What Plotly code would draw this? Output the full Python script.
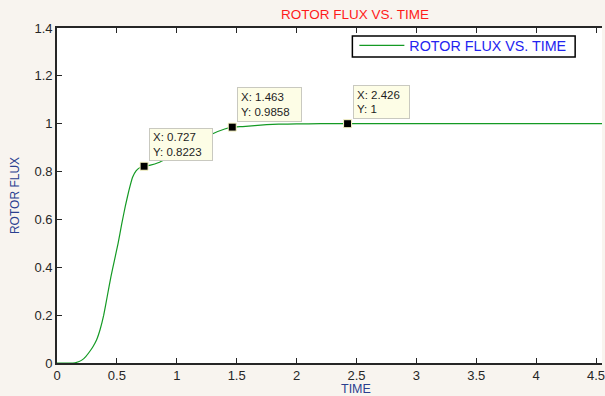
import plotly.graph_objects as go

# Rotor flux response over time
time_s = [0, 0.10, 0.15, 0.18, 0.21, 0.24, 0.27, 0.30, 0.33, 0.36, 0.39, 0.42,
          0.45, 0.48, 0.51, 0.54, 0.57, 0.60, 0.63, 0.66, 0.69, 0.727, 0.78,
          0.85, 0.92, 1.00, 1.10, 1.20, 1.30, 1.40, 1.463, 1.55, 1.65, 1.75,
          1.85, 2.00, 2.20, 2.426, 3.00, 3.50, 4.00, 4.60]
rotor_flux = [0, 0, 0.001, 0.005, 0.013, 0.027, 0.046, 0.068, 0.096, 0.14,
              0.20, 0.28, 0.36, 0.43, 0.50, 0.58, 0.655, 0.72, 0.775, 0.803,
              0.816, 0.8223, 0.827, 0.838, 0.855, 0.875, 0.90, 0.93, 0.958,
              0.978, 0.9858, 0.988, 0.992, 0.996, 0.998, 0.999, 1.0, 1.0, 1.0,
              1.0, 1.0, 1.0]

# Data-tip readings
tip_time = [0.727, 1.463, 2.426]
tip_flux = [0.8223, 0.9858, 1]

x_ticks = [0, 0.5, 1, 1.5, 2, 2.5, 3, 3.5, 4, 4.5]
y_ticks = [0, 0.2, 0.4, 0.6, 0.8, 1, 1.2, 1.4]

FONT = "Liberation Sans, Arial, sans-serif"
AXIS_COLOR = "#262626"
NAVY = "#2a3f8f"

fig = go.Figure()
fig.add_trace(go.Scatter(
    x=time_s, y=rotor_flux, mode="lines", name="ROTOR FLUX VS. TIME",
    line=dict(color="#149a24", width=1.2, shape="spline", smoothing=0.3),
))
fig.add_trace(go.Scatter(
    x=tip_time, y=tip_flux, mode="markers", showlegend=False,
    marker=dict(symbol="square", size=8, color="black",
                line=dict(color="#fbf8c8", width=1)),
    hoverinfo="skip",
))

# Data-tip boxes
box_sizes = [(56, 25), (57, 27), (49, 26)]
for tx, ty, (bw, bh) in zip(tip_time, tip_flux, box_sizes):
    fig.add_annotation(
        x=tx, y=ty, xref="x", yref="y", showarrow=False,
        text=f"X: {tx:g}<br>Y: {ty:g}",
        xanchor="left", yanchor="bottom", xshift=5, yshift=5,
        align="left", valign="middle", width=bw, height=bh,
        bgcolor="#fdfde6", bordercolor="#c9c9c0", borderwidth=1, borderpad=3,
        font=dict(family=FONT, size=11.5, color="#1e1e1e"),
    )

# x-axis label centred under the full time span
fig.add_annotation(
    x=2.5, y=-0.052, xref="x", yref="paper", yanchor="top",
    text="TIME", showarrow=False,
    font=dict(family=FONT, size=12.5, color=NAVY),
)

# Legend frame
fig.add_shape(
    type="rect", xref="paper", yref="paper",
    x0=(354 - 57) / 548, x1=(578 - 57) / 548,
    y0=(363 - 57) / 335, y1=(363 - 36) / 335,
    line=dict(color="black", width=1.5), fillcolor="white", layer="above",
)

fig.update_layout(
    width=605, height=396,
    margin=dict(l=57, r=0, t=28, b=33),
    paper_bgcolor="#f8f4ef",
    plot_bgcolor="white",
    font=dict(family=FONT, size=13, color=AXIS_COLOR),
    title=dict(
        text="ROTOR FLUX VS. TIME", x=355 / 605, xanchor="center",
        y=1 - 14 / 396, yanchor="middle",
        font=dict(family=FONT, size=13.5, color="#ff1a1a"),
    ),
    showlegend=True,
    legend=dict(
        x=(356 - 57) / 548, y=(363 - 29.5) / 335, xanchor="left", yanchor="top",
        bgcolor="rgba(0,0,0,0)", borderwidth=0,
        font=dict(family=FONT, size=14.3, color="#2323f0"),
        tracegroupgap=0, itemwidth=45,
    ),
    xaxis=dict(
        range=[0, 4.55], tickvals=x_ticks, showgrid=False, zeroline=False,
        showline=True, linecolor=AXIS_COLOR, linewidth=1.6, mirror="ticks",
        ticks="inside", ticklen=5, tickcolor=AXIS_COLOR, tickwidth=1,
        ticklabeloverflow="allow",
    ),
    yaxis=dict(
        range=[0, 1.4], tickvals=y_ticks, showgrid=False, zeroline=False,
        showline=True, linecolor=AXIS_COLOR, linewidth=1.6,
        ticks="inside", ticklen=5, tickcolor=AXIS_COLOR, tickwidth=1,
        title=dict(text="ROTOR FLUX", standoff=12,
                   font=dict(family=FONT, size=12, color=NAVY)),
    ),
)

fig.write_html("out.html")
